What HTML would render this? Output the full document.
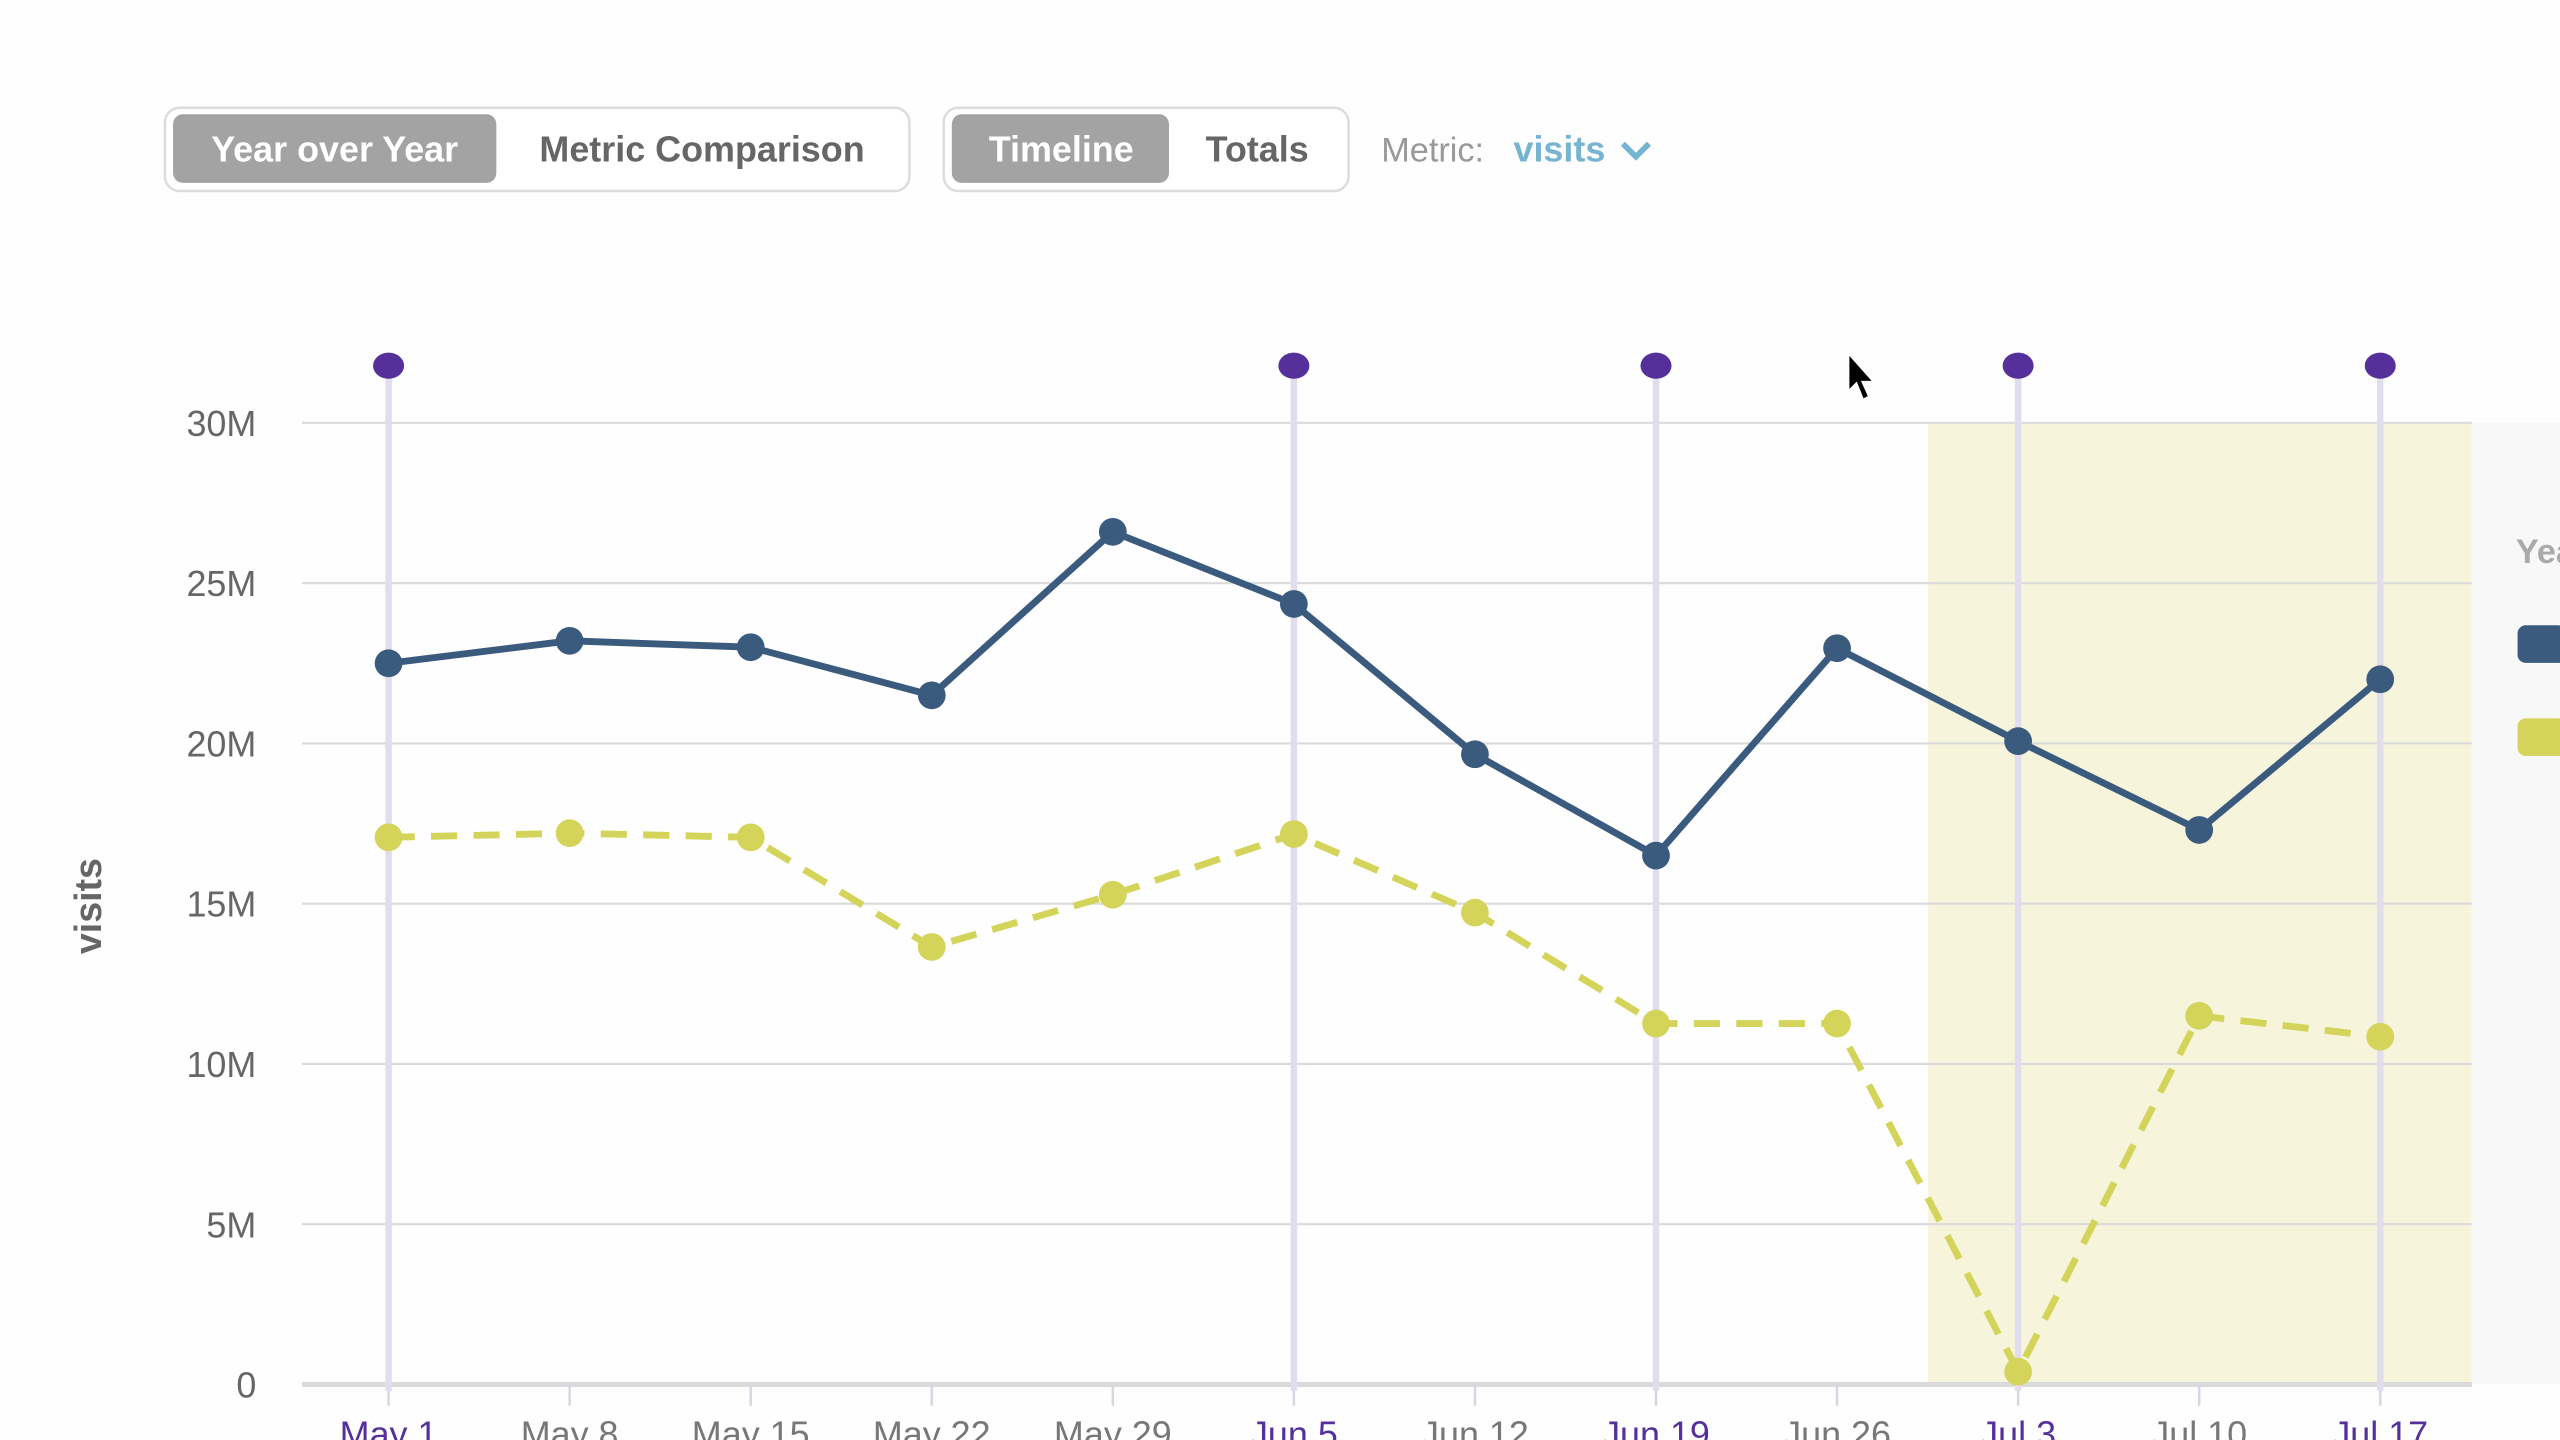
<!DOCTYPE html>
<html><head><meta charset="utf-8"><style>
html,body{margin:0;padding:0;background:#fff;width:2560px;height:1440px;overflow:hidden}
svg{display:block}
text{font-family:"Liberation Sans",sans-serif}
</style></head><body>
<svg id="chart" width="2560" height="1440" viewBox="0 0 1568 882" preserveAspectRatio="none" xmlns="http://www.w3.org/2000/svg">
<rect x="0" y="0" width="1568" height="882" fill="#fefefe"/>
<g>
<rect x="101" y="66" width="456" height="51" rx="9" fill="#fff" stroke="#dcdcdc" stroke-width="1.5"/>
<rect x="106" y="70" width="198" height="42" rx="6" fill="#a3a3a3"/>
<text x="205" y="99" text-anchor="middle" font-size="22" font-weight="bold" fill="#fff">Year over Year</text>
<text x="430" y="99" text-anchor="middle" font-size="22" font-weight="bold" fill="#666">Metric Comparison</text>
</g>
<g>
<rect x="578" y="66" width="248" height="51" rx="9" fill="#fff" stroke="#dcdcdc" stroke-width="1.5"/>
<rect x="583" y="70" width="133" height="42" rx="6" fill="#a3a3a3"/>
<text x="650" y="99" text-anchor="middle" font-size="22" font-weight="bold" fill="#fff">Timeline</text>
<text x="770" y="99" text-anchor="middle" font-size="22" font-weight="bold" fill="#666">Totals</text>
</g>
<text x="846" y="99" font-size="21" fill="#999">Metric:</text>
<g>
<text x="927" y="99" font-size="22" font-weight="bold" fill="#76b4d2">visits</text>
<path d="M994 88 L1002 96 L1010 88" fill="none" stroke="#76b4d2" stroke-width="3.5"/>
</g>
<rect x="1181" y="259" width="333" height="589" fill="#f6f5dc"/>
<rect x="1514" y="259" width="54" height="589" fill="#f8f8f9"/>
<text x="1541" y="345" font-size="21" font-weight="bold" fill="#aaa">Year</text>
<rect x="1542" y="383" width="30" height="23" rx="5" fill="#3a5a7e"/>
<rect x="1542" y="440" width="30" height="23" rx="5" fill="#d4d35a"/>
<text transform="translate(62,555) rotate(-90)" text-anchor="middle" font-size="23" font-weight="bold" fill="#666">visits</text>
<g id="grid"></g><g id="events"></g><g id="series"></g>
<path d="M1132 216 L1132 240 L1137 235 L1141 245 L1145 243 L1141 234 L1148 234 Z" fill="#000" stroke="#fff" stroke-width="1.5"/>
</svg>
<script>
const categories=["May 1","May 8","May 15","May 22","May 29","Jun 5","Jun 12","Jun 19","Jun 26","Jul 3","Jul 10","Jul 17"];
const currentYear=[22.5,23.2,23.0,21.5,26.6,24.35,19.66,16.5,22.97,20.07,17.3,22.0];
const previousYear=[17.07,17.2,17.07,13.65,15.28,17.17,14.72,11.26,11.26,0.4,11.5,10.85];
const yTicks=[0,5,10,15,20,25,30];
const yTickLabels=["0","5M","10M","15M","20M","25M","30M"];
const eventIdx=[0,5,7,9,11];
const NS="http://www.w3.org/2000/svg";
const X0=238,XSTEP=110.9,Y0=848,YTOP=259,YMAX=30;
function xs(i){return X0+i*XSTEP}
function ys(v){return Y0-(v/YMAX)*(Y0-YTOP)}
function mk(tag,attrs,parent){const e=document.createElementNS(NS,tag);for(const k in attrs)e.setAttribute(k,attrs[k]);parent.appendChild(e);return e}
const grid=document.getElementById('grid'),events=document.getElementById('events'),series=document.getElementById('series');
yTicks.forEach((t,i)=>{
 const l=mk('line',{x1:185,x2:1514,y1:ys(t),y2:ys(t),stroke:'#dadada','stroke-width':t===0?3:1.3},grid);
 
 
 const tx=mk('text',{x:157,y:ys(t)+8,'text-anchor':'end','font-size':22,fill:'#666'},grid);
 tx.textContent=yTickLabels[i];
 
 
});
categories.forEach((c,i)=>{
 const ev=eventIdx.includes(i);
 const tk=mk('line',{x1:xs(i),x2:xs(i),y1:Y0,y2:861,stroke:'#d5d8e3','stroke-width':1.5},grid);
 
 
 const tx=mk('text',{x:xs(i),y:886,'text-anchor':'middle','font-size':22,fill:ev?'#55309a':'#777'},grid);
 tx.textContent=c;
 
 
});
eventIdx.forEach(i=>{
 const l=mk('line',{x1:xs(i),x2:xs(i),y1:224,y2:852,stroke:'#e1ddee','stroke-width':4},events);
 
 
 const d=mk('ellipse',{cx:xs(i),cy:224,rx:9.5,ry:8,fill:'#55309a'},events);
 
 
});
function drawSeries(vals,color,dash,name){
 const p=mk('polyline',{points:vals.map((v,i)=>xs(i)+','+ys(v)).join(' '),fill:'none',stroke:color,'stroke-width':4.2,'stroke-linejoin':'round'},series);
 if(dash)p.setAttribute('stroke-dasharray',dash);
 
 
 vals.forEach((v,i)=>{
  const c=mk('circle',{cx:xs(i),cy:ys(v),r:8.5,fill:color},series);
  
  
 });
}
drawSeries(previousYear,'#d4d35a','16 10','previous-year');
drawSeries(currentYear,'#3a5a7e',null,'current-year');
</script>
</body></html>
